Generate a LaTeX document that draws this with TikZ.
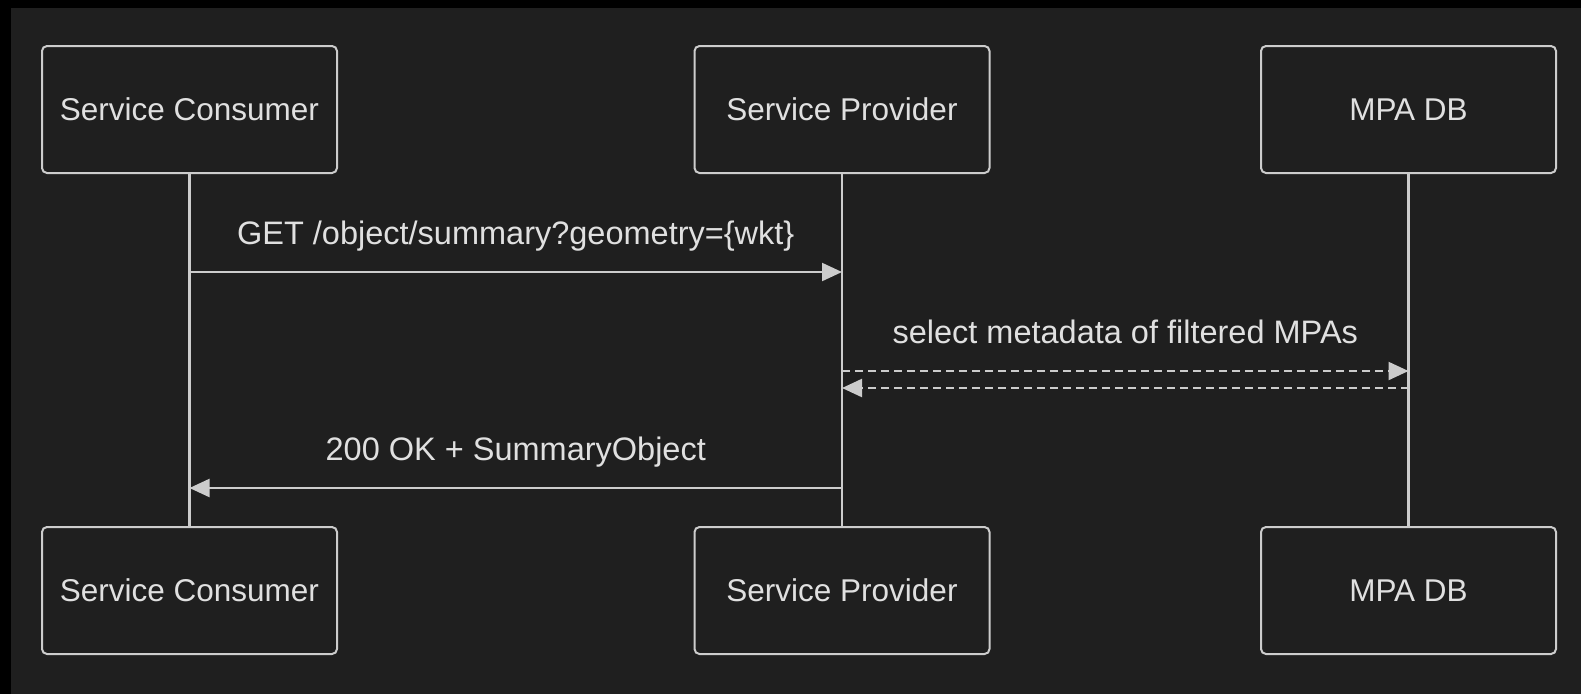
\documentclass[tikz,border=0pt]{standalone}
\usepackage{fontspec}
\setmainfont{Liberation Sans}
\usetikzlibrary{arrows.meta}
\definecolor{bgdark}{HTML}{1F1F1F}
\definecolor{linegray}{HTML}{CCCCCC}
\definecolor{textgray}{HTML}{E0E0E0}

\begin{document}
\begin{tikzpicture}[
        x=1pt, y=-1pt, % координаты в пикселях, ось y вниз
        actor/.style={draw=linegray, line width=2pt, rounded corners=5pt, fill=bgdark,
                minimum width=295pt, minimum height=127pt, text=textgray,
                font=\fontsize{31.5}{37}\selectfont}, % Стиль участников
        life/.style={draw=linegray, line width=2.5pt},
        msg/.style={draw=linegray, line width=2.2pt, -{Triangle[length=20pt, width=18pt]}},
        reply/.style={msg, dash pattern=on 8pt off 5pt},
        lbl/.style={text=textgray, font=\fontsize{32.5}{38}\selectfont, anchor=base, yshift=28pt},
    ]

    % фон
    \fill[black] (0,0) rectangle (1581,694);
    \fill[bgdark] (11,8) rectangle (1581,694);

    \node[actor] (sc) at (189.5,109.5) {Service Consumer};
    \node[actor] (sp) at (842,109.5) {Service Provider};
    \node[actor] (db) at (1408.5,109.5) {MPA DB};
    \node[actor] (sc2) at (189.5,590.5) {Service Consumer};
    \node[actor] (sp2) at (842,590.5) {Service Provider};
    \node[actor] (db2) at (1408.5,590.5) {MPA DB};

    \draw[life] (sc.south) -- (sc2.north);
    \draw[life] (sp.south) -- (sp2.north);
    \draw[life] (db.south) -- (db2.north);

    \coordinate (sc-get) at (189.5,272);
    \coordinate (sp-get) at (842,272);
    \coordinate (sp-sel) at (842,371);
    \coordinate (db-sel) at (1408.5,371);
    \coordinate (db-ret) at (1408.5,388);
    \coordinate (sp-ret) at (842,388);
    \coordinate (sp-ok) at (842,488);
    \coordinate (sc-ok) at (189.5,488);

    \draw[msg] (sc-get) -- node[lbl, midway] (get) {GET /object/summary?geometry=\{wkt\}} (sp-get);
    \draw[reply] (sp-sel) -- node[lbl, midway] (sel) {select metadata of filtered MPAs} (db-sel);
    \draw[reply] (db-ret) -- (sp-ret);
    \draw[msg] (sp-ok) -- node[lbl, midway] (ok) {200 OK + SummaryObject} (sc-ok);
\end{tikzpicture}
\end{document}
